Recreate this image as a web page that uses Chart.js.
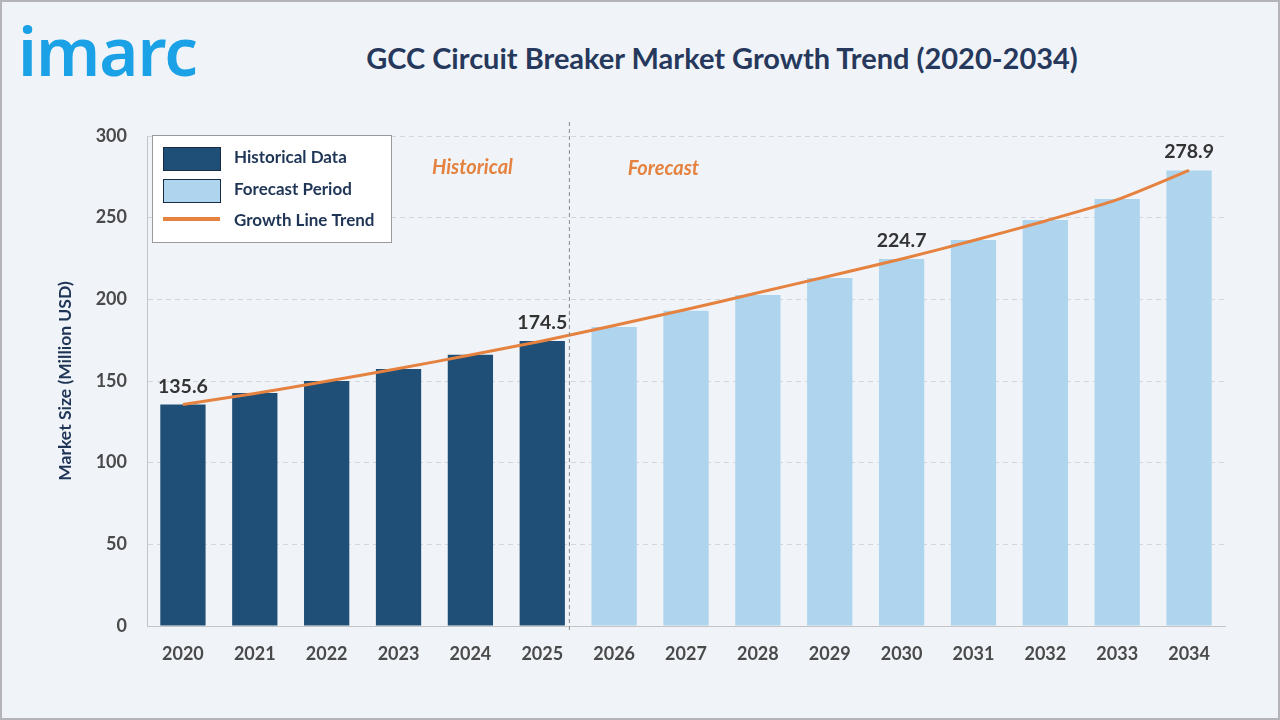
<!DOCTYPE html>
<html>
<head>
<meta charset="utf-8">
<script src="https://cdn.jsdelivr.net/npm/chart.js@4.4.1/dist/chart.umd.min.js"></script>
<style>
  html,body{margin:0;padding:0;}
  body{width:1280px;height:720px;background:#f0f4f9;position:relative;overflow:hidden;}
  #frame{position:absolute;left:0;top:0;width:1276px;height:716px;border:2px solid #b4b4b8;}
  #logo{position:absolute;left:18px;top:4px;font-family:"Noto Sans",sans-serif;font-weight:600;font-size:67px;color:#1ba1e6;letter-spacing:-1px;}
  #title{position:absolute;left:0;width:1444px;top:40px;text-align:center;font-family:Lato,sans-serif;font-weight:700;font-size:29px;color:#26395c;}
  canvas{position:absolute;left:0;top:0;}
</style>
</head>
<body>
<div id="frame"></div>
<div id="logo">imarc</div>
<div id="title">GCC Circuit Breaker Market Growth Trend (2020-2034)</div>
<canvas id="c" width="1280" height="720"></canvas>
<script>
const years = ["2020","2021","2022","2023","2024","2025","2026","2027","2028","2029","2030","2031","2032","2033","2034"];
const marketSize = [135.6,142.7,150.0,157.4,166.0,174.5,183.0,193.0,202.7,213.0,224.7,236.4,248.6,261.5,278.9];
const trendLine = [135.6,142.4,149.8,157.6,165.9,174.5,184.0,193.8,204.0,214.3,224.7,236.0,248.0,261.0,278.9];
const historicalCount = 6;
const labeledYears = ["2020","2025","2030","2034"];
const yTicks = [0,50,100,150,200,250,300];

const DARK = "#1f4e76", LIGHT = "#aed4ee", ORANGE = "#e5823f";
const barColors = years.map((y,i)=> i < historicalCount ? DARK : LIGHT);

const overlay = {
  id:'overlay',
  afterDatasetsDraw(chart){
    const ctx = chart.ctx, xs = chart.scales.x, ys = chart.scales.y, ca = chart.chartArea;
    const meta = chart.getDatasetMeta(1);
    ctx.save();
    // divider
    const lastHist = meta.data[historicalCount-1];
    const xd = lastHist.x + lastHist.width/2 + 4.5;
    ctx.strokeStyle = "#8a8a8a"; ctx.lineWidth = 1; ctx.setLineDash([4,3]);
    ctx.beginPath(); ctx.moveTo(xd, ca.top-14); ctx.lineTo(xd, ca.bottom+4); ctx.stroke();
    ctx.setLineDash([]);
    // period labels
    ctx.fillStyle = ORANGE; ctx.font = "italic 700 20px Lato, sans-serif";
    ctx.textAlign = "center"; ctx.textBaseline = "middle";
    ctx.fillText("Historical", xd-97, ca.top+32);
    ctx.fillText("Forecast", xd+94, ca.top+33);
    // data labels
    ctx.fillStyle = "#333"; ctx.font = "700 19.5px Lato, sans-serif"; ctx.textBaseline = "alphabetic";
    years.forEach((y,i)=>{
      if(labeledYears.includes(y)){
        const px = xs.getPixelForValue(i), py = ys.getPixelForValue(marketSize[i]);
        ctx.fillText(marketSize[i].toFixed(1), px, py-12);
      }
    });
    // legend
    const lx = ca.left+5, ly = ca.top-1;
    ctx.fillStyle = "#fff"; ctx.strokeStyle = "#9a9a9a"; ctx.lineWidth = 1;
    ctx.fillRect(lx, ly, 239, 107); ctx.strokeRect(lx+0.5, ly+0.5, 239, 107);
    ctx.fillStyle = DARK; ctx.fillRect(lx+11, ly+12, 57, 23);
    ctx.strokeStyle = "#1a2d45"; ctx.strokeRect(lx+11.5, ly+12.5, 57, 23);
    ctx.fillStyle = LIGHT; ctx.fillRect(lx+11, ly+44, 57, 23);
    ctx.strokeRect(lx+11.5, ly+44.5, 57, 23);
    ctx.strokeStyle = ORANGE; ctx.lineWidth = 4;
    ctx.beginPath(); ctx.moveTo(lx+11, ly+84); ctx.lineTo(lx+68, ly+84); ctx.stroke();
    ctx.fillStyle = "#1f3556"; ctx.font = "700 17px Lato, sans-serif";
    ctx.textAlign = "left"; ctx.textBaseline = "middle";
    ctx.fillText("Historical Data", lx+82, ly+23);
    ctx.fillText("Forecast Period", lx+82, ly+55);
    ctx.fillText("Growth Line Trend", lx+82, ly+86);
    // y title
    ctx.save();
    ctx.translate(65, (ca.top+ca.bottom)/2);
    ctx.rotate(-Math.PI/2);
    ctx.textAlign = "center"; ctx.fillStyle = "#1f3556"; ctx.font = "700 17.5px Lato, sans-serif";
    ctx.fillText("Market Size (Million USD)", 0, 0);
    ctx.restore();
    ctx.restore();
  }
};

new Chart(document.getElementById('c'), {
  data:{
    labels: years,
    datasets:[
      {type:'line', label:'Growth Line Trend', data: trendLine, borderColor: ORANGE, borderWidth:3,
       pointRadius:0, tension:0.25, order:0},
      {type:'bar', label:'Market Size', data: marketSize, backgroundColor: barColors,
       barPercentage:0.63, categoryPercentage:1, order:1}
    ]
  },
  options:{
    responsive:false, animation:false, devicePixelRatio:1,
    layout:{padding:{left:0, top:136, right:55, bottom:0}},
    plugins:{legend:{display:false}, tooltip:{enabled:false}, title:{display:false}},
    scales:{
      x:{
        afterFit(s){ s.height = 94; },
        grid:{display:false, drawTicks:false},
        border:{display:true, color:"#c4c4c4", width:1},
        ticks:{color:"#4a4a4a", font:{family:"Lato", weight:"700", size:18}, padding:17}
      },
      y:{
        min:0, max:300,
        afterFit(s){ s.width = 147; },
        afterBuildTicks(s){ s.ticks = yTicks.map(v=>({value:v})); },
        grid:{color:"#d3d7dd", drawTicks:false},
        border:{display:true, color:"#c4c4c4", width:1, dash:[5,4]},
        ticks:{color:"#4a4a4a", font:{family:"Lato", weight:"700", size:18}, padding:20}
      }
    }
  },
  plugins:[overlay]
});
</script>
</body>
</html>
